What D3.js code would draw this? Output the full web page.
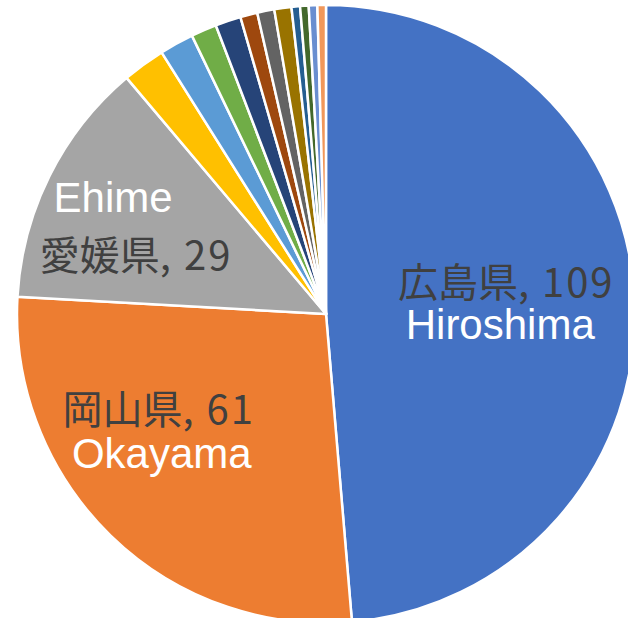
<!DOCTYPE html>
<html>
<head>
<meta charset="utf-8">
<script src="https://cdn.jsdelivr.net/npm/d3@7"></script>
<style>
  body { margin: 0; background: #fff; }
</style>
</head>
<body>
<script>
// prefectures, clockwise from 12 o'clock
var names = ['広島県', '岡山県', '愛媛県', '山口県', '香川県', '島根県', '鳥取県', '徳島県', '高知県', '福岡県', '兵庫県', '大阪府', '東京都', 'その他'];
var romaji = ['Hiroshima', 'Okayama', 'Ehime', '', '', '', '', '', '', '', '', '', '', ''];
var values = [109, 61, 29, 5, 4, 3, 3, 2, 2, 2, 1, 1, 1, 1];
var colors = ['#4472C4', '#ED7D31', '#A5A5A5', '#FFC000', '#5B9BD5', '#70AD47', '#264478',
              '#9E480E', '#636363', '#997300', '#255E91', '#43682B', '#698ED0', '#F1975A'];

var width = 628;
var height = 618;
var cx = 326, cy = 314;
var radius = 309;

var svg = d3.select('body')
    .append('svg')
    .attr('width', width)
    .attr('height', height);

var g = svg.append('g')
    .attr('transform', 'translate(' + cx + ',' + cy + ')');

var pie = d3.pie()
    .sort(null)
    .value(function (d) { return d; });

var arcs = pie(values);

var arc = d3.arc()
    .innerRadius(0)
    .outerRadius(radius);

g.selectAll('path')
    .data(arcs)
    .enter().append('path')
    .attr('d', arc)
    .attr('fill', function (d, i) { return colors[i]; })
    .attr('stroke', 'white')
    .attr('stroke-width', 2.5)
    .attr('stroke-linejoin', 'round');

// data labels (only the big three are shown)
var labelArc = d3.arc()
    .innerRadius(radius * 0.6)
    .outerRadius(radius * 0.6);

// nudges from the centroid to the Japanese line's baseline (Excel best fit)
var nudge = [[-5, -9], [-38, -23], [-24, 39]];
// romaji line offset from the Japanese line
var romajiOff = [[-6, 42], [3, 44], [-23, -58]];

var labels = g.selectAll('g.label')
    .data(arcs.slice(0, 3))
    .enter().append('g')
    .attr('class', 'label')
    .attr('transform', function (d, i) {
        var c = labelArc.centroid(d);
        return 'translate(' + (c[0] + nudge[i][0]) + ',' + (c[1] + nudge[i][1]) + ')';
    });

var jp = labels.append('text')
    .attr('text-anchor', 'middle')
    .style('font-family', '"Noto Sans CJK JP", sans-serif')
    .style('font-size', '40px')
    .style('fill', '#404040');

jp.append('tspan')
    .text(function (d, i) { return names[i]; });

jp.append('tspan')
    .style('letter-spacing', '2px')
    .text(function (d, i) { return ', ' + values[i]; });

labels.append('text')
    .attr('text-anchor', 'middle')
    .attr('x', function (d, i) { return romajiOff[i][0]; })
    .attr('y', function (d, i) { return romajiOff[i][1]; })
    .style('font-family', '"Liberation Sans", Arial, sans-serif')
    .style('font-size', '42px')
    .style('fill', '#fff')
    .text(function (d, i) { return romaji[i]; });
</script>
</body>
</html>
